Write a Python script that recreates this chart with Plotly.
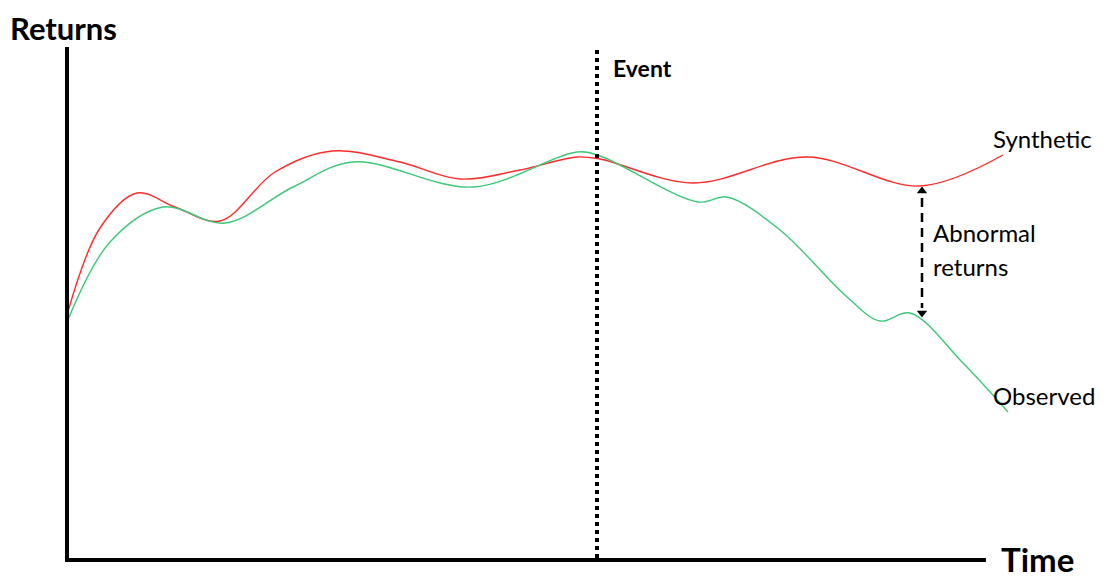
import plotly.graph_objects as go

# Readings from the reference (time units, return units)
synthetic_t = [67, 100, 137, 175, 220, 275, 332, 400, 460, 520, 577, 600, 693, 807, 920, 1003]
synthetic_r = [266, 353, 388, 374, 360, 409, 430, 419, 402, 411, 424, 422, 398, 424, 395, 426]

observed_t = [67, 110, 163, 225, 293, 353, 473, 577, 600, 698, 727, 780, 847, 880, 910, 963, 1008]
observed_r = [259, 339, 374, 358, 394, 419, 394, 429, 425, 379, 384, 351, 284, 260, 268, 218, 169]

event_t = 597
gap_t = 922
gap_top = 395     # synthetic value at gap_t
gap_bottom = 263  # observed value at gap_t

FONT = "Lato"
PAGE_OFFSET = 8   # default body margin of the written page

fig = go.Figure()

fig.add_trace(go.Scatter(x=synthetic_t, y=synthetic_r, mode="lines",
                         line=dict(color="#ff2a2a", width=1.4, shape="spline", smoothing=1.0),
                         hoverinfo="skip", showlegend=False))
fig.add_trace(go.Scatter(x=observed_t, y=observed_r, mode="lines",
                         line=dict(color="#3cc878", width=1.4, shape="spline", smoothing=1.0),
                         hoverinfo="skip", showlegend=False))

# Abnormal returns double arrow
fig.add_trace(go.Scatter(x=[gap_t, gap_t], y=[gap_top - 12, gap_bottom + 10], mode="lines",
                         line=dict(color="black", width=2.5, dash="9px,6px"),
                         hoverinfo="skip", showlegend=False))
fig.add_trace(go.Scatter(x=[gap_t, gap_t], y=[gap_top - 5, gap_bottom + 5], mode="markers",
                         marker=dict(symbol=["triangle-up", "triangle-down"], size=9, color="black"),
                         hoverinfo="skip", showlegend=False))

# Axes
fig.add_shape(type="line", x0=67, x1=67, y0=21, y1=534, line=dict(color="black", width=4))
fig.add_shape(type="line", x0=65, x1=986, y0=21, y1=21, line=dict(color="black", width=4))
# Event line
fig.add_shape(type="line", x0=event_t, x1=event_t, y0=23, y1=531,
              line=dict(color="black", width=4, dash="dot"))

def label(text, x, y, size, bold=False, yanchor="middle"):
    fig.add_annotation(x=x, y=y, text=f"<b>{text}</b>" if bold else text, showarrow=False,
                       xanchor="left", yanchor=yanchor, borderpad=0,
                       font=dict(family=FONT, size=size, color="black"))

label("Returns", 9, 573, 31, bold=True, yanchor="top")
label("Time", 1000, 22, 33, bold=True)
label("Event", 612, 513, 23, bold=True)
label("Synthetic", 992, 443, 24)
label("Observed", 992, 186, 24)
label("Abnormal", 932, 349, 24)
label("returns", 932, 315, 24)

fig.update_layout(
    width=1112 - PAGE_OFFSET, height=581 - PAGE_OFFSET, autosize=False,
    margin=dict(l=0, r=0, t=0, b=0),
    paper_bgcolor="white", plot_bgcolor="white",
    xaxis=dict(range=[PAGE_OFFSET, 1112], visible=False, fixedrange=True),
    yaxis=dict(range=[0, 581 - PAGE_OFFSET], visible=False, fixedrange=True),
)

fig.write_html("out.html")
